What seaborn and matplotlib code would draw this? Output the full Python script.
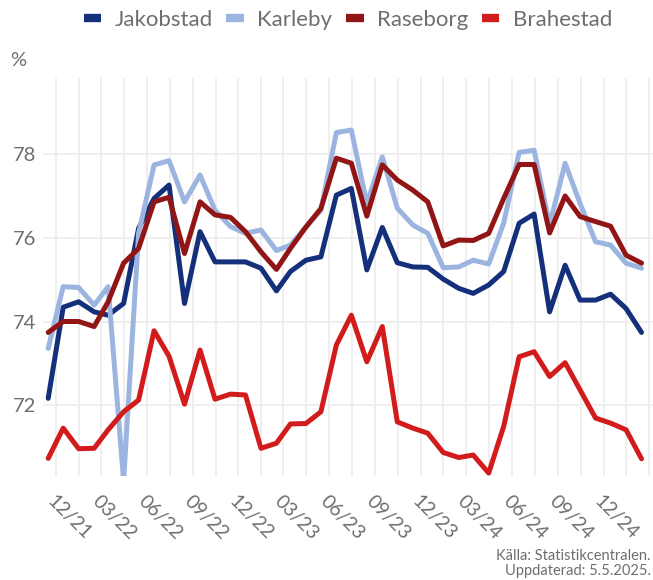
import matplotlib
matplotlib.use("Agg")
import matplotlib.pyplot as plt
import matplotlib.dates as mdates
import numpy as np
import pandas as pd
import seaborn as sns

# monthly values, Nov 2021 - Feb 2025
cities = ["Jakobstad", "Karleby", "Raseborg", "Brahestad"]
colors = ["#15307a", "#9cb5e0", "#921515", "#d21c1c"]

jakobstad = [72.17, 74.34, 74.47, 74.23, 74.15, 74.43, 76.22, 76.93, 77.25, 74.43,
             76.14, 75.42, 75.42, 75.42, 75.27, 74.73, 75.19, 75.46, 75.54, 77.01,
             77.17, 75.23, 76.24, 75.40, 75.30, 75.29, 75.01, 74.79, 74.67, 74.87,
             75.19, 76.34, 76.56, 74.23, 75.34, 74.51, 74.51, 74.65, 74.31, 73.74]
karleby = [73.36, 74.83, 74.81, 74.39, 74.83, 70.20, 76.10, 77.73, 77.83, 76.85,
           77.49, 76.65, 76.26, 76.10, 76.18, 75.69, 75.82, 76.25, 76.65, 78.50,
           78.56, 76.81, 77.92, 76.70, 76.30, 76.10, 75.28, 75.30, 75.46, 75.37,
           76.34, 78.03, 78.08, 76.30, 77.77, 76.81, 75.90, 75.82, 75.39, 75.27]
raseborg = [73.74, 74.00, 74.00, 73.88, 74.47, 75.39, 75.74, 76.85, 76.96, 75.62,
            76.85, 76.54, 76.48, 76.14, 75.66, 75.24, 75.74, 76.25, 76.69, 77.89,
            77.77, 76.51, 77.73, 77.37, 77.13, 76.85, 75.80, 75.94, 75.93, 76.10,
            76.93, 77.74, 77.74, 76.11, 76.99, 76.50, 76.38, 76.27, 75.58, 75.39]
brahestad = [70.74, 71.46, 70.97, 70.98, 71.42, 71.85, 72.13, 73.78, 73.17, 72.03,
             73.32, 72.15, 72.27, 72.25, 70.98, 71.10, 71.56, 71.57, 71.85, 73.44,
             74.15, 73.04, 73.88, 71.61, 71.46, 71.34, 70.88, 70.76, 70.82, 70.39,
             71.50, 73.16, 73.28, 72.69, 73.02, 72.37, 71.70, 71.58, 71.42, 70.73]

dates = pd.date_range("2021-11-01", periods=len(jakobstad), freq="MS") + pd.Timedelta(days=14)
tick_dates = pd.date_range("2021-12-01", "2025-03-01", freq="3MS")
y_ticks = [72, 74, 76, 78]

df = pd.DataFrame({"date": dates, "Jakobstad": jakobstad, "Karleby": karleby,
                   "Raseborg": raseborg, "Brahestad": brahestad})
long = df.melt(id_vars="date", var_name="city", value_name="value")

sns.set_style("white")
plt.rcParams["font.family"] = ["Lato", "DejaVu Sans"]
txt = "#6e6e6e"

fig = plt.figure(figsize=(6.53, 5.80), dpi=100)
ax = fig.add_axes([42.7 / 653, 1 - 476 / 580, 1 - 42.7 / 653, 398 / 580])

sns.lineplot(data=long, x="date", y="value", hue="city", hue_order=cities,
             palette=colors, linewidth=3.6, ax=ax)

for s in ax.spines.values():
    s.set_visible(False)

ax.set_ylim(70.32, 79.8)
ax.set_xlim(pd.Timestamp("2021-11-04"), pd.Timestamp("2025-03-10"))

ax.set_yticks(y_ticks)
ax.set_yticklabels([str(v) for v in y_ticks], fontsize=14.5, color=txt)

tick_nums = mdates.date2num(tick_dates)
labels = [d.strftime("%m/%y") for d in tick_dates]
labels[-1] = ""
ax.set_xticks(tick_nums)
ax.set_xticklabels(labels, fontsize=14, color=txt, rotation=-45,
                   ha="left", va="top", rotation_mode="anchor")
ax.set_xticks((tick_nums[:-1] + tick_nums[1:]) / 2, minor=True)

ax.tick_params(axis="both", which="both", length=0)
ax.tick_params(axis="x", pad=12)
ax.tick_params(axis="y", pad=5)
ax.grid(True, which="both", color="#efefef", linewidth=1.4)
ax.set_axisbelow(True)
ax.set_xlabel("")
ax.set_ylabel("")

handles, labs = ax.get_legend_handles_labels()
for h in handles:
    h.set_linewidth(6)
    h.set_solid_capstyle("butt")
ax.legend(handles, labs, loc="center", bbox_to_anchor=(0.5, 1.146), ncol=4,
          frameon=False, fontsize=16, labelcolor=txt, handlelength=0.8,
          handletextpad=0.6, columnspacing=0.6, borderaxespad=0)

fig.text(10 / 653, 1 - 60 / 580, "%", fontsize=14.5, color=txt, ha="left", va="center")
fig.text(651 / 653, 2 / 580, "Källa: Statistikcentralen.\nUppdaterad: 5.5.2025.",
         fontsize=10.5, color=txt, ha="right", va="bottom", linespacing=1.1)

fig.savefig("out.png", dpi=100)
